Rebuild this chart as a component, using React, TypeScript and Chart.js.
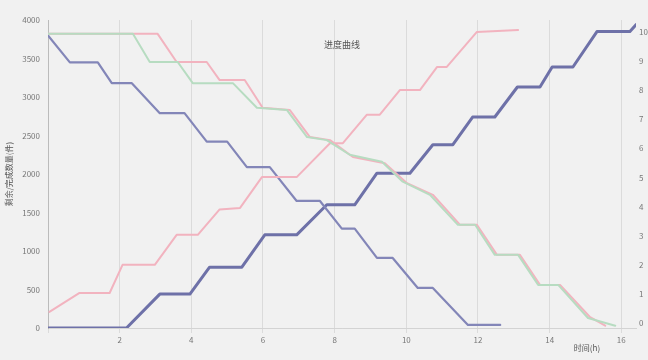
import React, { useEffect, useRef } from "react";
import { Chart, registerables } from "chart.js";

Chart.register(...registerables);

const titleText = "进度曲线";
const xTitle = "时间(h)";
const yTitle = "剩余/完成数量(件)";

const xTickValues = [0, 2, 4, 6, 8, 10, 12, 14, 16];
const yTickValues = [0, 500, 1000, 1500, 2000, 2500, 3000, 3500, 4000];
const rightTickValues = [0, 1, 2, 3, 4, 5, 6, 7, 8, 9, 10];

const blueDownX = [0, 0.61, 1.39, 1.78, 2.34, 3.12, 3.81, 4.43, 5.0, 5.55, 6.19, 6.94, 7.59, 8.2, 8.56, 9.18, 9.62, 10.32, 10.74, 11.72, 12.62];
const blueDownY = [3800, 3450, 3450, 3180, 3180, 2790, 2790, 2420, 2420, 2090, 2090, 1650, 1650, 1290, 1290, 910, 910, 520, 520, 40, 40];

const blueUpX = [0, 2.19, 3.12, 3.96, 4.51, 5.41, 6.05, 6.94, 7.78, 8.56, 9.18, 10.1, 10.74, 11.3, 11.85, 12.47, 13.1, 13.73, 14.07, 14.65, 15.32, 16.24, 16.41];
const blueUpY = [0, 0, 440, 440, 790, 790, 1210, 1210, 1600, 1600, 2010, 2010, 2380, 2380, 2740, 2740, 3130, 3130, 3390, 3390, 3850, 3850, 3940];

const pinkUpX = [0.04, 0.88, 1.72, 2.08, 2.98, 3.59, 4.18, 4.79, 5.36, 5.97, 6.94, 7.87, 8.23, 8.9, 9.26, 9.82, 10.38, 10.86, 11.13, 11.97, 13.12];
const pinkUpY = [210, 455, 455, 820, 820, 1210, 1210, 1540, 1560, 1960, 1960, 2400, 2400, 2770, 2770, 3090, 3090, 3390, 3390, 3845, 3870];

const pinkDownX = [0, 3.06, 3.59, 4.43, 4.79, 5.49, 5.99, 6.75, 7.31, 7.87, 8.51, 9.4, 10.02, 10.74, 11.5, 11.97, 12.53, 13.17, 13.73, 14.29, 15.13, 15.55];
const pinkDownY = [3820, 3820, 3455, 3455, 3220, 3220, 2860, 2830, 2480, 2440, 2220, 2140, 1880, 1730, 1340, 1340, 950, 950, 560, 560, 140, 30];

const greenDownX = [0, 2.37, 2.84, 3.62, 4.04, 5.16, 5.83, 6.67, 7.23, 7.78, 8.42, 9.32, 9.9, 10.66, 11.44, 11.92, 12.47, 13.12, 13.68, 14.24, 15.07, 15.83];
const greenDownY = [3820, 3820, 3455, 3455, 3180, 3180, 2860, 2830, 2480, 2440, 2250, 2160, 1900, 1730, 1340, 1340, 950, 950, 560, 560, 130, 30];

const zip = (xs: number[], ys: number[]) => xs.map((x, i) => ({ x, y: ys[i] }));

const FONT = '"Noto Sans CJK SC", "Noto Sans", sans-serif';

const overlayText = {
  id: "overlayText",
  afterDraw(chart: any) {
    const { ctx, chartArea } = chart;
    ctx.save();
    ctx.textAlign = "center";
    ctx.textBaseline = "middle";
    ctx.fillStyle = "#555";
    ctx.font = `9px ${FONT}`;
    ctx.fillText(titleText, (chartArea.left + chartArea.right) / 2, chartArea.top + 25);
    ctx.font = `8px ${FONT}`;
    ctx.fillStyle = "#555";
    ctx.fillText(xTitle, 587, 348);
    ctx.restore();
  },
};

export default function App() {
  const ref = useRef<HTMLCanvasElement | null>(null);
  useEffect(() => {
    if (!ref.current) return;
    Chart.defaults.font.family = FONT;
    Chart.defaults.font.size = 8;
    Chart.defaults.color = "#777";
    const chart = new Chart(ref.current, {
      type: "line",
      data: {
        datasets: [
          { label: "B", data: zip(greenDownX, greenDownY), borderColor: "#b7dcc1", borderWidth: 2, yAxisID: "y" },
          { label: "C", data: zip(pinkDownX, pinkDownY), borderColor: "#f2b3bf", borderWidth: 2, yAxisID: "y" },
          { label: "D", data: zip(pinkUpX, pinkUpY), borderColor: "#f2b3bf", borderWidth: 2, yAxisID: "y" },
          { label: "A", data: zip(blueDownX, blueDownY), borderColor: "#8386b8", borderWidth: 2.2, yAxisID: "y" },
          { label: "E", data: zip(blueUpX, blueUpY), borderColor: "#6e71a8", borderWidth: 3, yAxisID: "y" },
        ] as any,
      },
      options: {
        animation: false,
        responsive: true,
        maintainAspectRatio: false,
        layout: { padding: { top: 20, left: 0, right: 0, bottom: 0 } },
        elements: {
          point: { radius: 0 },
          line: { tension: 0, borderJoinStyle: "round", borderCapStyle: "round" },
        },
        plugins: { legend: { display: false }, tooltip: { enabled: false }, title: { display: false } },
        scales: {
          x: {
            type: "linear",
            min: 0,
            max: 16.41,
            afterFit: (s: any) => { s.height = 32; },
            afterBuildTicks: (s: any) => { s.ticks = xTickValues.map((v) => ({ value: v })); },
            ticks: {
              callback: (v: any) => (v === 0 ? "" : String(v)),
              padding: 2,
              maxRotation: 0,
              color: "#777",
            },
            grid: { color: "rgba(0,0,0,0.09)", tickLength: 5, drawTicks: true },
            border: { color: "rgba(0,0,0,0.12)" },
          },
          y: {
            type: "linear",
            position: "left",
            min: 0,
            max: 4000,
            afterFit: (s: any) => { s.width = 48; },
            afterBuildTicks: (s: any) => { s.ticks = yTickValues.map((v) => ({ value: v })); },
            ticks: { padding: 8, color: "#777", callback: (v: any) => String(v) },
            grid: { drawOnChartArea: false, drawTicks: false },
            border: { color: "rgba(0,0,0,0.15)" },
            title: { display: true, text: yTitle, color: "#555", font: { size: 8 }, padding: { top: 4, bottom: 0 } },
          },
          y2: {
            type: "linear",
            position: "right",
            min: -0.17,
            max: 10.41,
            afterFit: (s: any) => { s.width = 12; },
            afterBuildTicks: (s: any) => { s.ticks = rightTickValues.map((v) => ({ value: v })); },
            ticks: { padding: 3, color: "#777" },
            grid: { drawOnChartArea: false, drawTicks: false },
            border: { display: false },
          },
        },
      } as any,
      plugins: [overlayText],
    });
    return () => chart.destroy();
  }, []);
  return (
    <div style={{ position: "absolute", left: 0, top: 0, width: 648, height: 360, background: "#f1f1f1" }}>
      <canvas ref={ref} />
    </div>
  );
}
